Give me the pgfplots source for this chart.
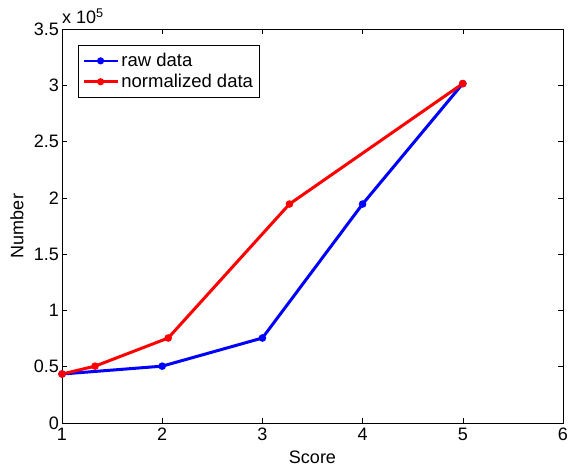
\documentclass[border=0pt]{standalone}
\usepackage{pgfplots}
\pgfplotsset{compat=1.18}
\usepackage{fontspec}
\setmainfont{Liberation Sans}
\definecolor{rawblue}{RGB}{0,0,255}
\definecolor{normred}{RGB}{255,0,0}
\newcommand{\mfont}{\fontsize{18bp}{20bp}\selectfont}
\begin{document}
\begin{tikzpicture}
\begin{axis}[
    name=ax,
    scale only axis,
    width=501bp, height=394bp,
    xmin=1, xmax=6, ymin=0, ymax=350000,
    xtick={1,2,3,4,5,6},
    ytick={0,50000,100000,150000,200000,250000,300000,350000},
    scaled y ticks=manual:{}{\pgfmathparse{#1/100000}},
    /pgf/number format/assume math mode=true,
    /pgf/number format/fixed,
    tick align=inside,
    major tick length=5bp,
    tick style={black, line width=0.5pt},
    axis line style={black, line width=0.6pt},
    ticklabel style={font=\mfont},
    yticklabel style={inner xsep=3bp},
    xticklabel style={yshift=-1.5bp},
    xlabel={Score},
    ylabel={Number},
    xlabel style={font=\mfont, at={(axis description cs:0.5,0)}, anchor=center, yshift=-34bp},
    ylabel style={font=\mfont, at={(axis description cs:0,0.5)}, anchor=center, yshift=45bp},
    legend style={at={(0.032,0.959)}, anchor=north west, draw=black, line width=0.5pt,
        fill=white, font=\fontsize{18.5bp}{21bp}\selectfont, row sep=3bp, inner xsep=4bp, inner ysep=6.5bp,
        nodes={inner xsep=2.5bp, inner ysep=1.5bp}},
    legend cell align=left,
    legend image code/.code={
        \draw[mark repeat=2, mark phase=2, #1, line width=2.6bp] plot coordinates {(0bp,0bp) (17bp,0bp) (34bp,0bp)};
    },
    clip=false,
]
\addplot[color=rawblue, line width=3bp, mark=*, mark size=2.2bp, mark options={solid}] coordinates {
    (1, 43500)
    (2, 50500)
    (3, 75500)
    (4, 194500)
    (5, 301500)
};
\addlegendentry{raw data}
\addplot[color=normred, line width=3bp, mark=*, mark size=2.2bp, mark options={solid}] coordinates {
    (1, 43500)
    (1.33, 50500)
    (2.06, 75500)
    (3.27, 194500)
    (5, 301500)
};
\addlegendentry{normalized data}
\node[anchor=base west, inner sep=0pt, font=\fontsize{18bp}{21bp}\selectfont] at (rel axis cs:0,1) [yshift=5bp] {x 10\textsuperscript{5}};
\end{axis}
\pgfresetboundingbox
\path ([shift={(-62bp,-46bp)}]ax.south west) rectangle ([shift={(5bp,29bp)}]ax.north east);
\end{tikzpicture}
\end{document}
